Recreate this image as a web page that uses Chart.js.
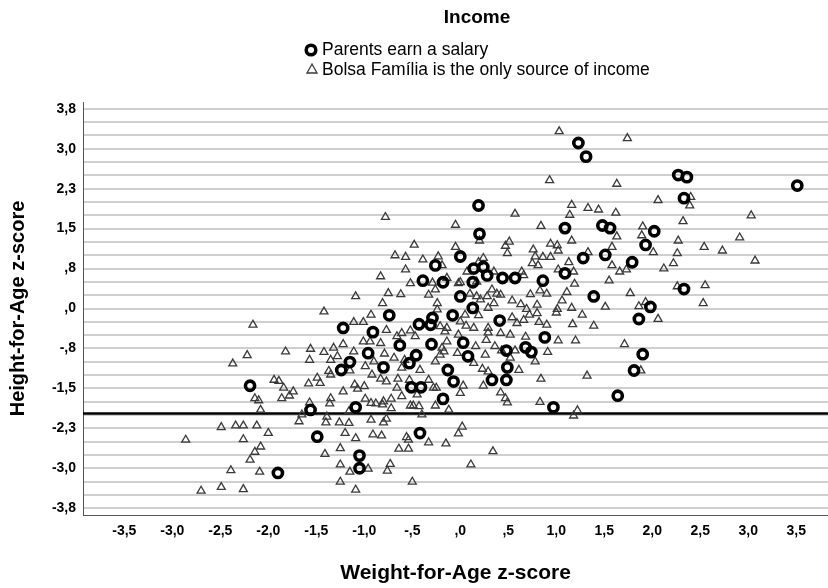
<!DOCTYPE html>
<html lang="en">
<head>
<meta charset="UTF-8">
<title>Income: Height-for-Age vs Weight-for-Age</title>
<script src="https://cdn.jsdelivr.net/npm/chart.js"></script>
<style>
  html, body { margin: 0; padding: 0; background: #fff; }
  #wrap { width: 828px; height: 588px; }
</style>
</head>
<body>
<div id="wrap"><canvas id="scatterChart" width="828" height="588"></canvas></div>
<script>
// data (z-scores)
const salaryX = [1.23, 1.31, 2.27, 2.36, 3.51, 2.33, 0.19, 0.20, 1.09, 1.48, 1.56, 2.02, 1.93, 1.28, 1.51, 1.79,
  1.09, 0.00, 0.14, 0.24, 0.28, 0.44, 0.57, 0.86, -0.18, 0.13, 0.00, 1.39, 2.33, 0.13, 1.98, -0.08,
  0.41, 0.88, 0.03, 0.48, 0.68, 0.74, 0.08, 0.49, -0.13, -0.07, 0.33, 0.48, -0.18, 0.97, 1.64, 1.81,
  1.90, 1.86, -1.22, -0.74, -0.91, -0.43, -0.29, -0.31, -0.63, -0.30, -0.96, -0.46, -1.15, -1.24, -0.80, -0.53,
  -0.51, -0.41, -2.19, -1.56, -1.09, -1.49, -0.42, -1.05, -1.05, -1.90, -0.26, -0.39];
const salaryY = [3.15, 2.89, 2.54, 2.50, 2.34, 2.10, 1.96, 1.42, 1.53, 1.58, 1.53, 1.47, 1.21, 0.96, 1.02, 0.88,
  0.67, 0.99, 0.76, 0.79, 0.63, 0.58, 0.58, 0.53, 0.50, 0.50, 0.23, 0.23, 0.37, 0.01, 0.03, -0.13,
  -0.23, -0.55, -0.65, -0.80, -0.74, -0.83, -0.91, -1.12, -1.17, -1.39, -1.36, -1.36, -1.72, -1.88, -1.66, -1.18,
  -0.87, -0.20, -0.37, -0.13, -0.45, -0.30, -0.18, -0.31, -0.70, -0.68, -0.85, -0.89, -1.02, -1.17, -1.12, -1.04,
  -1.50, -1.50, -1.47, -1.93, -1.88, -2.44, -2.37, -2.80, -3.04, -3.13, 0.82, 0.53];

const bolsaX = [-0.78, -0.05, -0.48, -0.05, -0.68, -0.57, -0.39, -0.23, -0.57, -0.83, -0.52, -0.29, -0.02, -0.14, -1.09, -0.75,
  -0.62, -0.81, -0.33, -0.26, -0.24, -1.42, 1.03, 1.74, 0.93, 1.63, 2.06, 2.40, 2.39, 1.16, 1.33, 1.44,
  1.62, 1.14, 0.57, 0.84, 1.90, 2.32, 3.03, 1.89, 1.63, 2.91, 2.27, 1.16, 0.20, 0.51, 0.47, 0.94,
  1.01, 1.02, 0.76, 0.49, 1.33, 1.58, 2.54, 2.73, 2.01, 2.26, 0.78, 0.86, 0.94, 2.22, 3.07, 0.75,
  0.81, 1.13, 1.58, 1.02, 1.18, 1.66, 1.73, 2.12, 0.64, 0.07, 0.35, 0.00, 0.66, 1.55, 1.19, 2.26,
  2.55, 1.11, 1.77, 0.73, 0.83, 0.90, 0.33, 0.38, 0.10, 0.54, 0.63, 0.80, 1.06, 1.51, 1.93, 1.86,
  2.53, -0.19, 0.24, 0.19, 0.28, 0.21, 0.35, 0.42, 2.06, 1.27, 1.17, 1.39, 1.00, 0.72, 0.90, 0.82,
  0.59, 0.54, 0.69, 0.05, 0.19, 0.14, 0.29, 0.00, -0.14, 0.42, 0.52, 0.27, 0.68, 1.02, 1.20, 1.71,
  0.16, 0.36, 0.43, 0.57, 0.91, -0.03, -0.14, -0.17, 0.26, 0.14, 0.52, 0.78, 0.61, 0.23, 0.29, 0.84,
  1.32, 1.88, 0.03, 0.00, 0.24, 0.42, 0.47, 0.49, 0.83, -0.12, 1.22, 1.18, 0.02, -0.02, -0.15, 0.34,
  0.11, -2.16, -0.93, -1.11, -1.01, -0.77, -0.61, -0.16, -0.52, -0.66, -1.22, -1.01, -0.94, -0.83, -1.56, -1.32,
  -1.82, -1.42, -1.11, -2.22, -2.37, -1.57, -1.35, -1.28, -0.79, -0.90, -0.99, -0.69, -0.58, -0.61, -0.42, -0.26,
  -0.21, -1.37, -1.35, -1.15, -0.92, -0.83, -0.77, -0.65, -0.53, -0.33, -0.25, -1.94, -1.89, -1.84, -1.74, -1.86,
  -1.78, -1.49, -1.58, -1.46, -1.22, -1.10, -1.00, -1.07, -0.66, -0.61, -0.45, -0.28, -0.26, -2.14, -2.10, -2.08,
  -1.57, -1.35, -1.36, -1.16, -0.99, -0.93, -0.88, -0.81, -0.72, -0.72, -0.52, -0.43, -0.40, -1.65, -1.68, -1.39,
  -1.40, -1.26, -1.16, -0.93, -0.80, -0.77, -2.49, -2.34, -2.26, -2.12, -2.00, -2.86, -2.26, -1.20, -1.09, -0.91,
  -0.82, -0.56, -0.54, -0.33, -2.08, -2.14, -2.19, -1.41, -1.25, -0.64, -0.54, -2.39, -2.09, -1.25, -1.15, -0.96,
  -0.73, -0.76, -1.25, -0.50, -2.70, -2.49, -2.26, -1.09, -0.24, -0.21, 0.06, 0.17, 1.01, 1.16, 0.80, 0.17,
  0.29, 0.66, -0.47, -0.02, -0.19, -0.80, -0.49, 0.29];
const bolsaY = [1.74, 1.59, 1.21, 1.17, 1.01, 0.98, 0.93, 0.99, 0.74, 0.61, 0.48, 0.49, 0.48, 0.58, 0.23, 0.29,
  0.27, 0.10, 0.26, 0.36, 0.10, -0.06, 3.37, 3.24, 2.44, 2.37, 2.06, 2.12, 1.96, 1.97, 1.91, 1.88,
  1.82, 1.78, 1.80, 1.57, 1.56, 1.66, 1.77, 1.39, 1.37, 1.35, 1.29, 1.29, 1.29, 1.27, 1.19, 1.23,
  1.20, 1.10, 1.12, 1.05, 1.07, 1.17, 1.17, 1.10, 1.07, 1.05, 0.99, 0.98, 0.98, 0.86, 0.91, 0.86,
  0.82, 0.88, 0.82, 0.74, 0.70, 0.70, 0.74, 0.76, 0.70, 0.70, 0.70, 0.50, 0.63, 0.53, 0.47, 0.42,
  0.44, 0.31, 0.29, 0.27, 0.34, 0.28, 0.36, 0.28, 0.28, 0.15, 0.08, 0.07, 0.15, 0.03, 0.12, 0.04,
  0.10, 0.82, 0.96, 0.88, 0.23, 0.17, 0.10, 0.26, -0.20, -0.12, -0.30, -0.33, -0.08, -0.12, -0.31, -0.26,
  -0.28, -0.17, -0.01, -0.12, -0.13, -0.37, -0.37, -0.25, -0.37, -0.47, -0.50, -0.60, -0.54, -0.61, -0.61, -0.68,
  -0.72, -0.72, -0.80, -0.80, -0.83, -0.85, -0.63, -0.82, -0.88, -1.04, -0.94, -1.01, -1.17, -1.15, -1.20, -1.34,
  -1.28, -1.18, -1.47, -1.61, -1.47, -1.60, -1.71, -1.79, -1.78, -1.93, -1.94, -2.04, -2.25, -2.38, -2.57, -2.72,
  -2.97, -0.31, -0.12, -0.26, -0.26, -0.41, -0.47, -0.44, -0.42, -0.53, -0.68, -0.63, -0.63, -0.66, -0.77, -0.75,
  -0.82, -0.83, -0.82, -0.89, -1.05, -0.98, -0.98, -0.91, -0.86, -1.01, -1.10, -0.94, -0.98, -1.13, -1.17, -1.01,
  -0.88, -1.19, -1.26, -1.18, -1.26, -1.34, -1.39, -1.34, -1.36, -1.36, -1.51, -1.36, -1.38, -1.51, -1.58, -1.71,
  -1.66, -1.32, -1.43, -1.42, -1.58, -1.45, -1.48, -1.53, -1.51, -1.67, -1.64, -1.51, -1.85, -1.71, -1.75, -1.93,
  -1.79, -1.71, -1.81, -1.96, -1.72, -1.80, -1.81, -1.83, -1.72, -1.90, -1.85, -1.86, -2.02, -2.02, -2.15, -2.06,
  -2.17, -2.17, -2.18, -2.12, -2.17, -2.10, -2.26, -2.23, -2.23, -2.23, -2.37, -2.50, -2.49, -2.37, -2.47, -2.40,
  -2.42, -2.45, -2.50, -2.55, -2.63, -2.73, -2.88, -2.77, -2.66, -2.67, -2.67, -3.08, -3.11, -2.97, -3.11, -3.05,
  -2.96, -3.09, -3.30, -3.30, -3.47, -3.40, -3.44, -3.45, -0.02, -0.34, -0.33, 0.51, -0.01, 0.01, -0.09, 0.23,
  0.01, -0.22, -0.53, -0.50, -0.75, -1.77, -1.85, -0.46];

const xTickValues = [-3.5, -3.0, -2.5, -2.0, -1.5, -1.0, -0.5, 0.0, 0.5, 1.0, 1.5, 2.0, 2.5, 3.0, 3.5];
const xTickLabels = ['-3,5', '-3,0', '-2,5', '-2,0', '-1,5', '-1,0', '-,5', ',0', ',5', '1,0', '1,5', '2,0', '2,5', '3,0', '3,5'];
const yTickValues = [-3.8, -3.04, -2.28, -1.52, -0.76, 0, 0.76, 1.52, 2.28, 3.04, 3.8];
const yTickLabels = ['-3,8', '-3,0', '-2,3', '-1,5', '-,8', ',0', ',8', '1,5', '2,3', '3,0', '3,8'];
const stuntingCutoff = -2;

const chartTitle = 'Income';
const seriesNames = ['Parents earn a salary', 'Bolsa Família is the only source of income'];

const FONT = '"Liberation Sans", Arial, Helvetica, sans-serif';
Chart.defaults.font.family = FONT;
Chart.defaults.color = '#000';

function toPoints(xs, ys) {
    return xs.map((x, i) => ({ x: x, y: ys[i] }));
}

// title + two-row legend, as in the SPSS output
const headerPlugin = {
    id: 'header',
    afterDraw(chart) {
        const ctx = chart.ctx;
        ctx.save();
        ctx.fillStyle = '#000';
        ctx.textBaseline = 'middle';
        ctx.font = 'bold 19px ' + FONT;
        ctx.textAlign = 'center';
        ctx.fillText(chartTitle, 477, 18);

        ctx.textAlign = 'left';
        ctx.font = '17.5px ' + FONT;
        // circle marker
        ctx.strokeStyle = '#000';
        ctx.lineWidth = 3.5;
        ctx.beginPath();
        ctx.arc(311, 50, 4.8, 0, Math.PI * 2);
        ctx.stroke();
        ctx.fillText(seriesNames[0], 322, 50);
        // triangle marker
        ctx.strokeStyle = '#3a3a3a';
        ctx.lineWidth = 1.3;
        ctx.beginPath();
        ctx.moveTo(312, 64);
        ctx.lineTo(317, 73);
        ctx.lineTo(307, 73);
        ctx.closePath();
        ctx.stroke();
        ctx.fillText(seriesNames[1], 322, 70);
        ctx.restore();
    }
};

const ctx = document.getElementById('scatterChart').getContext('2d');
new Chart(ctx, {
    type: 'scatter',
    data: {
        datasets: [
            {
                label: seriesNames[0],
                data: toPoints(salaryX, salaryY),
                pointStyle: 'circle',
                pointRadius: 4.6,
                borderWidth: 3.6,
                borderColor: '#000',
                backgroundColor: 'rgba(0,0,0,0)'
            },
            {
                label: seriesNames[1],
                data: toPoints(bolsaX, bolsaY),
                pointStyle: 'triangle',
                pointRadius: 4.6,
                borderWidth: 1.3,
                borderColor: '#3a3a3a',
                backgroundColor: 'rgba(0,0,0,0)'
            },
            {
                label: 'cutoff',
                type: 'line',
                data: [{ x: -3.93, y: stuntingCutoff }, { x: 3.83, y: stuntingCutoff }],
                borderColor: '#000',
                borderWidth: 2.5,
                pointRadius: 0,
                fill: false
            }
        ]
    },
    options: {
        responsive: false,
        animation: false,
        events: [],
        layout: { autoPadding: false, padding: { top: 102, left: 0, right: 0, bottom: 0 } },
        plugins: {
            legend: { display: false },
            title: { display: false },
            tooltip: { enabled: false }
        },
        scales: {
            x: {
                type: 'linear',
                min: -3.93,
                max: 3.83,
                grid: { display: false, drawTicks: false },
                border: { display: true, color: '#555', width: 1 },
                afterBuildTicks(scale) {
                    scale.ticks = xTickValues.map(v => ({ value: v }));
                },
                ticks: {
                    autoSkip: false,
                    maxRotation: 0,
                    padding: 8,
                    color: '#000',
                    font: { size: 14, weight: 'bold' },
                    callback: (value, index) => xTickLabels[index]
                },
                title: {
                    display: true,
                    text: 'Weight-for-Age z-score',
                    color: '#000',
                    font: { size: 21, weight: 'bold' },
                    padding: { top: 0, bottom: 2 }
                },
                afterFit(scale) { scale.height = 73; }
            },
            y: {
                type: 'linear',
                min: -3.93,
                max: 3.93,
                grid: { color: '#cfcfcf', lineWidth: 2, drawTicks: false },
                border: { display: true, color: '#555', width: 1 },
                afterBuildTicks(scale) {
                    // 3 grid lines per labelled step
                    const ticks = [];
                    for (let i = 0; i < yTickValues.length - 1; i++) {
                        const a = yTickValues[i], b = yTickValues[i + 1];
                        for (let k = 0; k < 3; k++) ticks.push({ value: a + (b - a) * k / 3 });
                    }
                    ticks.push({ value: yTickValues[yTickValues.length - 1] });
                    scale.ticks = ticks;
                },
                ticks: {
                    autoSkip: false,
                    padding: 7,
                    color: '#000',
                    font: { size: 14, weight: 'bold' },
                    callback: function (value) {
                        const i = yTickValues.findIndex(v => Math.abs(v - value) < 1e-6);
                        return i >= 0 ? yTickLabels[i] : '';
                    }
                },
                title: {
                    display: true,
                    text: 'Height-for-Age z-score',
                    color: '#000',
                    font: { size: 20, weight: 'bold' },
                    padding: { top: 6, bottom: 0 }
                },
                afterFit(scale) { scale.width = 83; }
            }
        }
    },
    plugins: [headerPlugin]
});
</script>
</body>
</html>
